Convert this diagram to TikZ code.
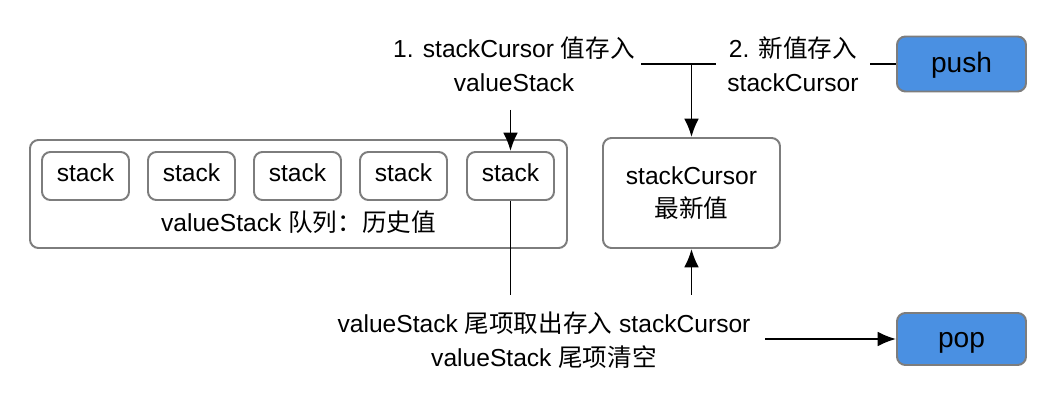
\documentclass[tikz,border=0pt]{standalone}
\usepackage{fontspec}
\setmainfont{Liberation Sans}
\newfontfamily\cjk{Noto Sans CJK SC}
\usetikzlibrary{arrows.meta}

\definecolor{framegray}{RGB}{125,125,125}
\definecolor{actblue}{RGB}{74,144,226}

\tikzstyle{frame}=[rectangle,rounded corners=6pt,draw=framegray,line width=1.4pt,fill=white,align=center,font=\fontsize{17.5}{24}\selectfont,inner sep=0pt,text height=11pt,text depth=2.5pt]
\tikzstyle{act}=[frame,fill=actblue,font=\fontsize{20}{24}\selectfont,text height=15pt,text depth=3pt]
\tikzstyle{note}=[align=center,font=\fontsize{17.5}{24}\selectfont,inner sep=0pt]
\tikzstyle{wire}=[line width=1.4pt]

\begin{document}
\begin{tikzpicture}[>={Latex[length=13pt,width=10.5pt]}]
	\useasboundingbox (0,0) rectangle (26.55,10.1);

	% Queue
	\node[frame,minimum width=13.425cm,minimum height=2.7cm] (queue) at (7.4625,5.25) {};
	\node[frame,minimum width=2.175cm,minimum height=1.2cm] (s1) at (2.1375,5.7) {stack};
	\node[frame,minimum width=2.175cm,minimum height=1.2cm] (s2) at (4.7875,5.7) {stack};
	\node[frame,minimum width=2.175cm,minimum height=1.2cm] (s3) at (7.4375,5.7) {stack};
	\node[frame,minimum width=2.175cm,minimum height=1.2cm] (s4) at (10.0875,5.7) {stack};
	\node[frame,minimum width=2.175cm,minimum height=1.2cm] (s5) at (12.7625,5.7) {stack};
	\node[note] (qlabel) at (7.4625,4.55) {valueStack {\cjk 队列：历史值}};

	% Cursor
	\node[frame,text height=,text depth=,minimum width=4.425cm,minimum height=2.75cm] (cursor) at (17.2875,5.275) {stackCursor\\{\cjk 最新值}};

	% Actions
	\node[act,minimum width=3.225cm,minimum height=1.375cm] (push) at (24.0375,8.5) {push};
	\node[act,minimum width=3.225cm,minimum height=1.3cm] (pop) at (24.0375,1.625) {pop};

	% Notes
	\node[note] (n1) at (12.85,8.5) {1. stackCursor {\cjk 值存入}\\valueStack};
	\node[note] (n2) at (19.825,8.5) {2. {\cjk 新值存入}\\stackCursor};
	\node[note] (n3) at (13.6,1.5875) {valueStack {\cjk 尾项取出存入} stackCursor\\valueStack {\cjk 尾项清空}};

	% Wires
	\coordinate (pl) at (21.75,8.5);
	\coordinate (jl) at (16.025,8.5);
	\coordinate (jr) at (17.9,8.5);
	\coordinate (a1) at (12.7625,7.35);
	\coordinate (b1) at (12.7625,2.725);
	\coordinate (b2) at (17.2875,2.725);
	\coordinate (b3) at (19.125,1.625);

	\draw[wire] (pl) -- (push.west);
	\draw[wire] (jl) -- (jr);
	\draw[wire,->] (cursor.north |- jl) -- (cursor.north);
	\draw[wire,->] (a1) -- (s5.north);
	\draw[wire] (s5.south) -- (b1);
	\draw[wire,->] (b2) -- (cursor.south);
	\draw[wire,->] (b3) -- (pop.west);
\end{tikzpicture}
\end{document}
